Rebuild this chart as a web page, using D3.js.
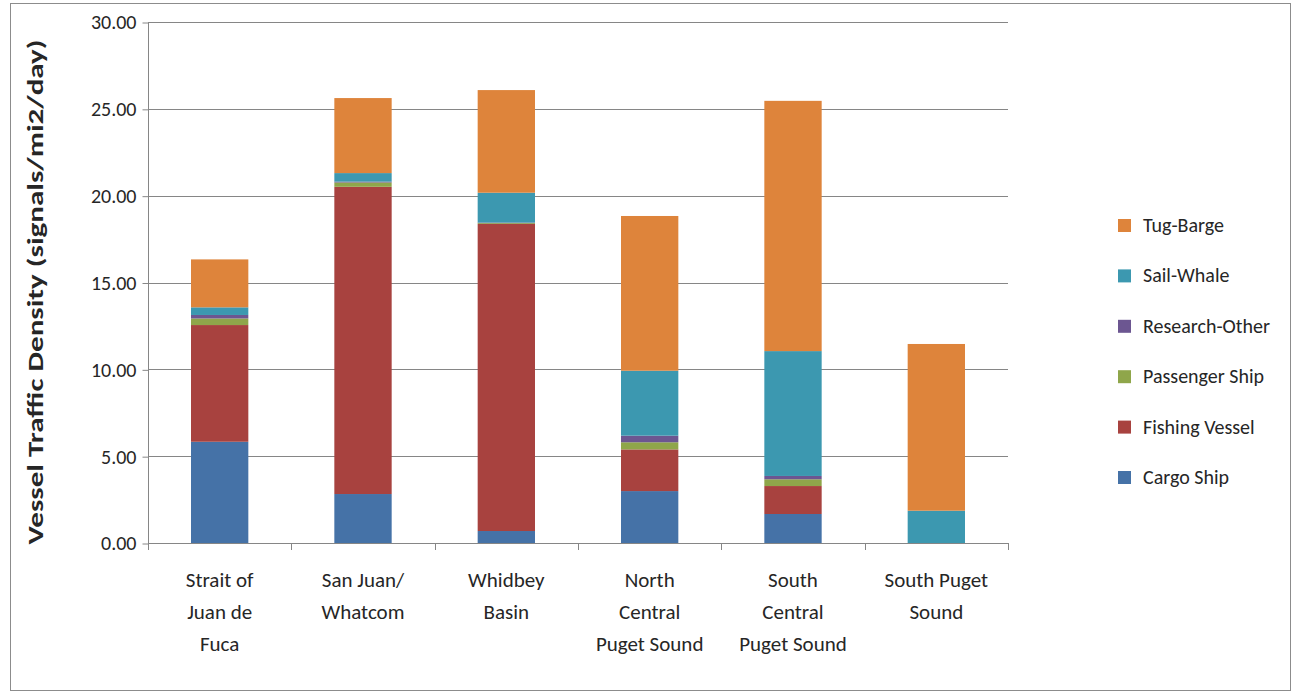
<!DOCTYPE html>
<html>
<head>
<meta charset="utf-8">
<script src="https://cdn.jsdelivr.net/npm/d3@7"></script>
<style>
  body { margin: 0; background: #fff; }
  svg text { font-family: Carlito, "Liberation Sans Narrow", "Liberation Sans", sans-serif; fill: #262626; }
</style>
</head>
<body>
<svg id="chart" width="1292" height="693"></svg>
<script>
// dati
const regions = ["Strait of Juan de Fuca", "San Juan/ Whatcom", "Whidbey Basin",
  "North Central Puget Sound", "South Central Puget Sound", "South Puget Sound"]
const regionLines = [
  ["Strait of", "Juan de", "Fuca"],
  ["San Juan/", "Whatcom"],
  ["Whidbey", "Basin"],
  ["North", "Central", "Puget Sound"],
  ["South", "Central", "Puget Sound"],
  ["South Puget", "Sound"]
]
const vesselTypes = ["Cargo Ship", "Fishing Vessel", "Passenger Ship", "Research-Other", "Sail-Whale", "Tug-Barge"]
const cargoShip     = [5.83, 2.82, 0.69, 2.99, 1.67, 0.00]
const fishingVessel = [6.72, 17.69, 17.68, 2.40, 1.61, 0.00]
const passengerShip = [0.38, 0.25, 0.05, 0.41, 0.39, 0.00]
const researchOther = [0.20, 0.05, 0.03, 0.38, 0.19, 0.00]
const sailWhale     = [0.44, 0.49, 1.72, 3.74, 7.19, 1.86]
const tugBarge      = [2.76, 4.32, 5.91, 8.91, 14.41, 9.60]
const yTicks = [0, 5, 10, 15, 20, 25, 30]

const colors = ["#4572a7", "#a8423f", "#8fa64a", "#6c5691", "#3c98b0", "#de843b"]

const svg = d3.select('#chart')

// cornice esterna
svg.append('rect')
  .attr('x', 10.5).attr('y', 3.5)
  .attr('width', 1280).attr('height', 687)
  .attr('fill', 'none')
  .attr('stroke', '#8c8c8c')

const plotLeft = 148, plotRight = 1008, plotTop = 22, plotBottom = 543

// tabella per lo stack
const series = [cargoShip, fishingVessel, passengerShip, researchOther, sailWhale, tugBarge]
const table = regions.map((r, i) => {
  const row = { region: r }
  vesselTypes.forEach((t, j) => { row[t] = series[j][i] })
  return row
})
const stacked = d3.stack().keys(vesselTypes)(table)

const xScale = d3.scaleBand()
  .domain(regions)
  .range([plotLeft, plotRight])
  .paddingInner(0.6)
  .paddingOuter(0.3)

const yScale = d3.scaleLinear()
  .domain([0, 30])
  .range([plotBottom, plotTop])

// griglia orizzontale
svg.append('g')
  .selectAll('line')
  .data(yTicks.filter(d => d > 0))
  .enter()
  .append('line')
  .attr('x1', plotLeft).attr('x2', plotRight)
  .attr('y1', d => Math.round(yScale(d)) + 0.5)
  .attr('y2', d => Math.round(yScale(d)) + 0.5)
  .style('stroke', '#868686')

// asse y
const yAxis = d3.axisLeft(yScale)
  .tickValues(yTicks)
  .tickSize(6)
  .tickPadding(6)
  .tickFormat(d3.format('.2f'))
const yG = svg.append('g')
  .attr('transform', `translate(${plotLeft + 0.5}, 0.5)`)
  .call(yAxis)
yG.selectAll('text').style('font-size', '20px').style('fill', '#262626')
yG.selectAll('line, path').style('stroke', '#868686')
yG.select('path.domain').attr('d', `M0,${plotTop}V${plotBottom}`)

// barre
svg.append('g')
  .selectAll('g')
  .data(stacked)
  .enter()
  .append('g')
  .style('fill', (d, i) => colors[i])
  .selectAll('rect')
  .data(d => d)
  .enter()
  .append('rect')
  .attr('x', d => xScale(d.data.region))
  .attr('width', xScale.bandwidth())
  .attr('y', d => yScale(d[1]))
  .attr('height', d => yScale(d[0]) - yScale(d[1]))

// asse x
svg.append('line')
  .attr('x1', plotLeft).attr('x2', plotRight)
  .attr('y1', plotBottom + 0.5).attr('y2', plotBottom + 0.5)
  .style('stroke', '#868686')
svg.append('g')
  .selectAll('line')
  .data(d3.range(regions.length + 1))
  .enter()
  .append('line')
  .attr('x1', i => Math.round(plotLeft + i * (plotRight - plotLeft) / regions.length) + 0.5)
  .attr('x2', i => Math.round(plotLeft + i * (plotRight - plotLeft) / regions.length) + 0.5)
  .attr('y1', plotBottom).attr('y2', plotBottom + 7)
  .style('stroke', '#868686')

// etichette categorie
const catG = svg.append('g')
regions.forEach((r, i) => {
  const cx = xScale(r) + xScale.bandwidth() / 2
  const t = catG.append('text')
    .attr('x', cx).attr('y', 587)
    .style('text-anchor', 'middle')
    .style('font-size', '21px')
  regionLines[i].forEach((line, k) => {
    t.append('tspan').attr('x', cx).attr('dy', k === 0 ? 0 : 32).text(line)
  })
})

// etichetta asse y
svg.append('text')
  .attr('transform', `translate(43, 292) rotate(-90)`)
  .style('text-anchor', 'middle')
  .style('font-size', '23px')
  .style('font-weight', 'bold')
  .attr('textLength', 505)
  .attr('lengthAdjust', 'spacingAndGlyphs')
  .text('Vessel Traffic Density (signals/mi2/day)')

// legenda
const legendTypes = vesselTypes.slice().reverse()
const legend = svg.append('g')
legendTypes.forEach((t, i) => {
  const y = 225 + i * 50.4
  legend.append('rect')
    .attr('x', 1118).attr('y', y - 6)
    .attr('width', 13).attr('height', 13)
    .style('fill', colors[vesselTypes.indexOf(t)])
  legend.append('text')
    .attr('x', 1143).attr('y', y + 7)
    .style('font-size', '20px')
    .text(t)
})
</script>
</body>
</html>
